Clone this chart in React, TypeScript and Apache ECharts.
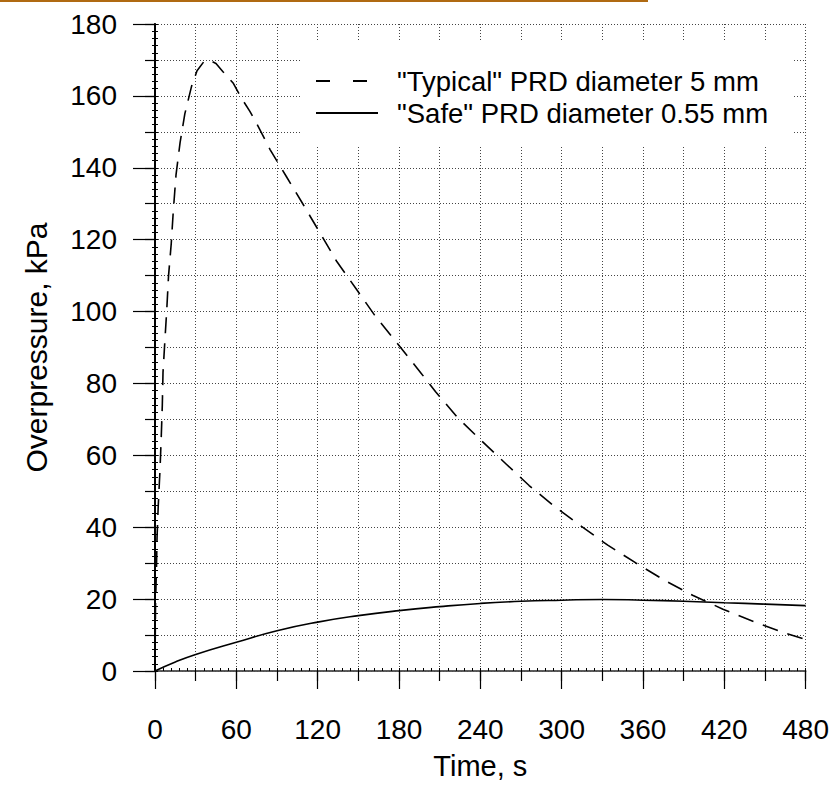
import React, { useEffect, useRef } from "react";
import * as echarts from "echarts";

const typicalT = [0, 0.2, 0.4, 1.1, 1.5, 2.4, 3.7, 4.6, 5.4, 5.9, 7.3, 8.6, 10, 12, 13.5, 15.5, 18.5, 22, 27, 31, 36, 40, 45, 50, 57.6, 63.7, 70, 76, 85, 97, 109, 122, 134, 149, 162, 178, 196, 207, 223, 241, 259, 276, 295, 314, 334, 355, 376, 397, 419, 442, 465, 478];
const typicalV = [0, 10, 19, 29, 37, 46, 56, 65, 74, 83, 92, 100, 110, 119, 128, 138, 147, 155, 162.7, 167, 169.5, 170, 169, 166.8, 163.6, 159.4, 155.7, 151.6, 145, 137.5, 130, 121.7, 114, 106, 99, 91.5, 83, 77.7, 70.6, 64, 57.6, 51.6, 45.7, 40.4, 35, 30, 25.2, 21, 17.2, 13.7, 10.5, 9];
const safeT = [0, 15, 30, 60, 90, 120, 150, 180, 210, 240, 270, 300, 330, 360, 390, 420, 450, 480];
const safeV = [0, 2.5, 4.6, 8, 11.2, 13.6, 15.4, 16.8, 17.9, 18.8, 19.4, 19.7, 19.9, 19.7, 19.4, 19.0, 18.6, 18.2];
const seriesNames = ['"Typical" PRD diameter 5 mm', '"Safe" PRD diameter 0.55 mm'];
const xTitle = "Time, s";
const yTitle = "Overpressure, kPa";

const FONT = "'Liberation Sans', Arial, sans-serif";
const dotted = { color: "#444", width: 1, type: [1, 2] as number[] };

export default function App() {
  const ref = useRef<HTMLDivElement>(null);
  useEffect(() => {
    if (!ref.current) return;
    const chart = echarts.init(ref.current, null, { renderer: "svg" });
    const common = { min: 0, max: 480, type: "value" as const };
    const commonY = { min: 0, max: 180, type: "value" as const };
    const hidden = { show: false };
    chart.setOption({
      animation: false,
      backgroundColor: "#fff",
      textStyle: { fontFamily: FONT },
      grid: { left: 155, right: 26, top: 24, bottom: 111, containLabel: false },
      legend: {
        data: [
          { name: seriesNames[0], lineStyle: { type: [14, 23] } },
          { name: seriesNames[1] },
        ],
        orient: "vertical",
        left: 300,
        top: 42,
        backgroundColor: "#fff",
        padding: [25, 26, 20, 15],
        itemWidth: 62,
        itemHeight: 16,
        itemGap: 4,
        itemStyle: { color: "rgba(0,0,0,0)", borderWidth: 0, opacity: 0 },
        textStyle: { fontSize: 27.5, color: "#000", fontFamily: FONT, lineHeight: 28, padding: [0, 0, 0, 14] },
      },
      xAxis: [
        {
          ...common, position: "bottom", interval: 60,
          axisLine: { show: true, lineStyle: { color: "#000", width: 1.5 } },
          axisTick: { show: true, length: 18, lineStyle: { color: "#000", width: 1.2 } },
          axisLabel: { show: true, fontSize: 28, color: "#000", margin: 44, fontFamily: FONT },
          splitLine: hidden,
          name: xTitle, nameLocation: "middle", nameGap: 80,
          nameTextStyle: { fontSize: 29, color: "#000", fontFamily: FONT },
        },
        {
          ...common, position: "bottom", interval: 30,
          axisLine: hidden, axisLabel: hidden,
          axisTick: { show: true, length: 10, lineStyle: { color: "#000", width: 1.2 } },
          splitLine: { show: true, lineStyle: dotted },
        },
        {
          ...common, position: "bottom", interval: 6,
          axisLine: hidden, axisLabel: hidden, splitLine: hidden,
          axisTick: { show: true, inside: true, length: 3, lineStyle: { color: "#000", width: 1 } },
        },
        {
          ...common, position: "top", interval: 60,
          axisLine: { show: true, lineStyle: { color: "#666", width: 1.5 } },
          axisLabel: hidden, axisTick: hidden, splitLine: hidden,
        },
      ],
      yAxis: [
        {
          ...commonY, position: "left", interval: 20,
          axisLine: { show: true, lineStyle: { color: "#000", width: 1.5 } },
          axisTick: { show: true, length: 22, lineStyle: { color: "#000", width: 1.2 } },
          axisLabel: { show: true, fontSize: 28, color: "#000", margin: 38, fontFamily: FONT },
          splitLine: hidden,
          name: yTitle, nameLocation: "middle", nameGap: 104,
          nameTextStyle: { fontSize: 30, color: "#000", fontFamily: FONT },
        },
        {
          ...commonY, position: "left", interval: 10,
          axisLine: hidden, axisLabel: hidden,
          axisTick: { show: true, length: 10, lineStyle: { color: "#000", width: 1.2 } },
          splitLine: { show: true, lineStyle: dotted },
        },
        {
          ...commonY, position: "left", interval: 2,
          axisLine: hidden, axisLabel: hidden, splitLine: hidden,
          axisTick: { show: true, inside: true, length: 3, lineStyle: { color: "#000", width: 1 } },
        },
        {
          ...commonY, position: "right", interval: 2,
          axisLine: { show: true, lineStyle: { color: "#000", width: 2 } },
          axisLabel: hidden, splitLine: hidden,
          axisTick: { show: true, inside: true, length: 3, lineStyle: { color: "#000", width: 1 } },
        },
      ],
      series: [
        {
          name: seriesNames[0], type: "line", xAxisIndex: 0, yAxisIndex: 0,
          data: typicalT.map((t, i) => [t, typicalV[i]]),
          symbol: "none", smooth: false,
          lineStyle: { color: "#000", width: 1.6, type: [16, 10] },
          itemStyle: { color: "#000" },
          z: 5,
        },
        {
          name: seriesNames[1], type: "line", xAxisIndex: 0, yAxisIndex: 0,
          data: safeT.map((t, i) => [t, safeV[i]]),
          symbol: "none", smooth: true,
          lineStyle: { color: "#000", width: 1.6, type: "solid" },
          itemStyle: { color: "#000" },
          z: 5,
        },
      ],
      graphic: [
        {
          type: "line",
          shape: { x1: 0, y1: 1, x2: 648, y2: 1 },
          style: { stroke: "#b06a12", lineWidth: 2 },
          z: 100,
        },
      ],
    });
    return () => chart.dispose();
  }, []);
  return (
    <div
      ref={ref}
      style={{ position: "fixed", left: 0, top: 0, width: 832, height: 785, background: "#fff" }}
    />
  );
}
